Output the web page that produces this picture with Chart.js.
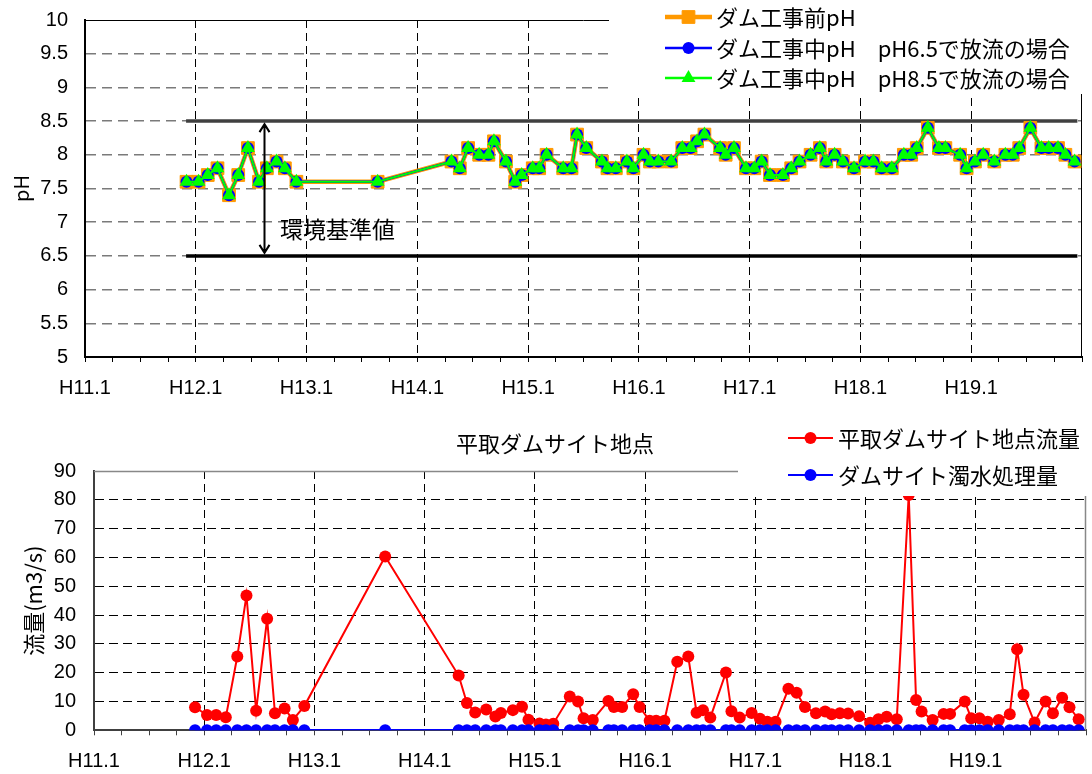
<!DOCTYPE html>
<html><head><meta charset="utf-8">
<script src="https://cdn.jsdelivr.net/npm/chart.js@4"></script>
<style>html,body{margin:0;padding:0;background:#fff;overflow:hidden}canvas{display:block}</style>
</head><body>
<canvas id="ph" width="1092" height="400"></canvas>
<canvas id="flow" width="1092" height="374"></canvas>
<script>
// ---- data (x = months since H11.1) ----
const months = [11.0, 12.3, 13.3, 14.35, 15.6, 16.6, 17.65, 18.85, 19.7, 20.75, 21.65, 22.9, 31.7,
  39.7, 40.6, 41.5, 42.7, 43.7, 44.3, 45.6, 46.6, 47.3, 48.5, 49.2, 50.0, 51.8, 52.7, 53.3, 54.3,
  56.0, 56.6, 57.5, 58.7, 59.4, 60.5, 61.2, 62.1, 63.5, 64.7, 65.6, 66.3, 67.1, 68.8, 69.4, 70.3,
  71.6, 72.5, 73.3, 74.2, 75.6, 76.5, 77.4, 78.6, 79.6, 80.3, 81.2, 82.1, 83.3, 84.5, 85.4, 86.3,
  87.4, 88.7, 89.5, 90.1, 91.3, 92.5, 93.2, 94.8, 95.5, 96.4, 97.3, 98.5, 99.7, 100.5, 101.2,
  102.4, 103.6, 104.4, 105.4, 106.2, 107.2];
const phBefore = [7.6,7.6,7.7,7.8,7.4,7.7,8.1,7.6,7.8,7.9,7.8,7.6,7.6,
  7.9,7.8,8.1,8.0,8.0,8.2,7.9,7.6,7.7,7.8, 7.8,8.0,7.8,7.8,8.3,8.1,7.9,7.8,7.8,7.9,
  7.8,8.0,7.9,7.9,7.9,8.1,8.1,8.2,8.3,8.1, 8.0,8.1,7.8,7.8,7.9,7.7,7.7,7.8,7.9,8.0,
  8.1,7.9,8.0,7.9,7.8,7.9,7.9,7.8,7.8,8.0, 8.0,8.1,8.4,8.1,8.1,8.0,7.8,7.9,8.0,7.9,
  8.0,8.0,8.1,8.4,8.1,8.1,8.1,8.0,7.9];
const phDuring65 = [7.6,7.6,7.7,7.8,7.4,7.7,8.1,7.6,7.8,7.9,7.8,7.6,7.6,
  7.9,7.8,8.1,8.0,8.0,8.2,7.9,7.6,7.7,7.8, 7.8,8.0,7.8,7.8,8.3,8.1,7.9,7.8,7.8,7.9,
  7.8,8.0,7.9,7.9,7.9,8.1,8.1,8.2,8.3,8.1, 8.0,8.1,7.8,7.8,7.9,7.7,7.7,7.8,7.9,8.0,
  8.1,7.9,8.0,7.9,7.8,7.9,7.9,7.8,7.8,8.0, 8.0,8.1,8.4,8.1,8.1,8.0,7.8,7.9,8.0,7.9,
  8.0,8.0,8.1,8.4,8.1,8.1,8.1,8.0,7.9];
const phDuring85 = [7.6,7.6,7.7,7.8,7.4,7.7,8.1,7.6,7.8,7.9,7.8,7.6,7.6,
  7.9,7.8,8.1,8.0,8.0,8.2,7.9,7.6,7.7,7.8, 7.8,8.0,7.8,7.8,8.3,8.1,7.9,7.8,7.8,7.9,
  7.8,8.0,7.9,7.9,7.9,8.1,8.1,8.2,8.3,8.1, 8.0,8.1,7.8,7.8,7.9,7.7,7.7,7.8,7.9,8.0,
  8.1,7.9,8.0,7.9,7.8,7.9,7.9,7.8,7.8,8.0, 8.0,8.1,8.4,8.1,8.1,8.0,7.8,7.9,8.0,7.9,
  8.0,8.0,8.1,8.4,8.1,8.1,8.1,8.0,7.9];
const flowSite = [8.0,5.3,5.3,4.5,25.6,46.8,6.8,38.7,5.9,7.6,3.6,8.4,60.3,
  19.0,9.5,6.2,7.2,4.8,6.0,7.0,8.2,3.7,2.4, 2.0,2.3,11.7,10.0,4.2,3.6,10.2,8.1,8.1,12.5,
  8.1,3.3,3.3,3.3,23.8,25.6,6.1,7.0,4.4,20.1, 6.6,4.4,6.0,4.0,3.0,3.0,14.4,13.0,8.1,5.9,
  6.5,5.6,5.9,5.8,4.9,2.6,3.8,4.7,3.8,81.7, 10.5,6.5,3.6,5.7,5.7,10.0,4.2,4.2,3.0,3.6,
  5.6,28.1,12.3,2.7,10.0,5.9,11.3,8.0,3.8];
const flowTreated = [0,0,0,0,0,0,0,0,0,0,0,0,0,
  0,0,0,0,0,0,0,0,0,0, 0,0,0,0,0,0,0,0,0,0, 0,0,0,0,0,0,0,0,0,0, 0,0,0,0,0,0,0,0,0,0,
  0,0,0,0,0,0,0,0,0,0, 0,0,0,0,0,0,0,0,0,0, 0,0,0,0,0,0,0,0,0];
const yearLabels = ['H11.1','H12.1','H13.1','H14.1','H15.1','H16.1','H17.1','H18.1','H19.1'];
const standardLevels = [8.5, 6.5];
const standardSpan = [10.95, 107.5];
const phLegend = ['ダム工事前pH', 'ダム工事中pH\u3000pH6.5で放流の場合', 'ダム工事中pH\u3000pH8.5で放流の場合'];
const flowLegend = ['平取ダムサイト地点流量', 'ダムサイト濁水処理量'];
const flowTitle = '平取ダムサイト地点';

// ---- helpers ----
const NUM_FONT = 'Liberation Sans, Arial, sans-serif';
const JP_FONT = '"Noto Sans CJK JP", sans-serif';
const pts = (vals) => vals.map((v, i) => ({x: months[i], y: v}));
const clear = 'rgba(0,0,0,0)';

function xAxis(h, axisColor) {
  return {
    type: 'linear', min: 0, max: 108,
    ticks: {stepSize: 3, autoSkip: false, maxRotation: 0, minRotation: 0, padding: 14, color: '#000',
      font: {family: NUM_FONT, size: 20},
      callback: (v) => (v % 12 === 0 && v / 12 < yearLabels.length) ? yearLabels[v / 12] : ''},
    grid: {color: (c) => { const v = c.tick ? c.tick.value : -1; return (v % 12 === 0 && v > 0 && v < 108) ? '#000' : clear; },
      lineWidth: 1, tickColor: axisColor, tickLength: 5, tickWidth: 1},
    border: {display: true, color: axisColor, width: 2, dash: [8, 5]},
    afterFit: (s) => { s.height = h; s.paddingLeft = 0; s.paddingRight = 0; }
  };
}
const yFmt = (v) => String(Number(Number(v).toFixed(1)));

function drawLegend(ctx, items, x0, x1, tx, ys, font) {
  items.forEach((it, i) => {
    const y = ys[i];
    ctx.save();
    ctx.strokeStyle = it.color; ctx.lineWidth = it.lw;
    ctx.beginPath(); ctx.moveTo(x0, y); ctx.lineTo(x1, y); ctx.stroke();
    ctx.fillStyle = it.fill; ctx.strokeStyle = it.stroke; ctx.lineWidth = it.bw;
    Chart.helpers.drawPoint(ctx, {pointStyle: it.style, radius: it.r, borderWidth: it.bw, rotation: 0}, (x0 + x1) / 2, y);
    ctx.fillStyle = '#000'; ctx.font = font; ctx.textBaseline = 'middle'; ctx.textAlign = 'left';
    ctx.fillText(it.text, tx, y + 1);
    ctx.restore();
  });
}

// ---- pH chart ----
const arrowMonth = 19.4;
const phDecor = {
  id: 'phDecor',
  beforeDatasetsDraw(chart) {
    const {ctx, chartArea: a} = chart;
    ctx.save(); ctx.strokeStyle = '#000'; ctx.lineWidth = 1;
    ctx.beginPath(); ctx.moveTo(a.left, a.top + 0.5); ctx.lineTo(a.right, a.top + 0.5);
    ctx.moveTo(a.right - 0.5, a.top); ctx.lineTo(a.right - 0.5, a.bottom); ctx.stroke(); ctx.restore();
  },
  afterDraw(chart) {
    const {ctx, scales: {x, y}} = chart;
    const ax = Math.round(x.getPixelForValue(arrowMonth)) + 0.5;
    const y1 = y.getPixelForValue(standardLevels[0]) + 3, y2 = y.getPixelForValue(standardLevels[1]) - 3;
    ctx.save(); ctx.strokeStyle = '#000'; ctx.lineWidth = 2;
    ctx.beginPath(); ctx.moveTo(ax, y1); ctx.lineTo(ax, y2);
    ctx.moveTo(ax - 5, y1 + 8); ctx.lineTo(ax, y1); ctx.lineTo(ax + 5, y1 + 8);
    ctx.moveTo(ax - 5, y2 - 8); ctx.lineTo(ax, y2); ctx.lineTo(ax + 5, y2 - 8);
    ctx.stroke();
    ctx.fillStyle = '#000'; ctx.font = '23px ' + JP_FONT; ctx.textBaseline = 'middle';
    ctx.fillText('環境基準値', 280, 229);
    ctx.fillStyle = '#fff'; ctx.fillRect(609, 0, 483, 94);
    ctx.restore();
    drawLegend(ctx, [
      {text: phLegend[0], color: '#ff9900', lw: 4.5, fill: '#ff9900', stroke: '#ff9900', bw: 1, style: 'rect', r: 9},
      {text: phLegend[1], color: '#0000ff', lw: 2.5, fill: '#0000ff', stroke: '#0000ff', bw: 0, style: 'circle', r: 6},
      {text: phLegend[2], color: '#00ff00', lw: 2.5, fill: '#00ff00', stroke: '#00ff00', bw: 0, style: 'triangle', r: 8}
    ], 665, 712, 716, [17, 48, 78], '22px ' + JP_FONT);
  }
};

new Chart(document.getElementById('ph'), {
  type: 'line',
  data: {datasets: [
    {data: [{x: standardSpan[0], y: standardLevels[0]}, {x: standardSpan[1], y: standardLevels[0]}], borderColor: '#404040', borderWidth: 3.5, pointRadius: 0, order: 10},
    {data: [{x: standardSpan[0], y: standardLevels[1]}, {x: standardSpan[1], y: standardLevels[1]}], borderColor: '#000000', borderWidth: 3.5, pointRadius: 0, order: 10},
    {data: pts(phBefore), borderColor: '#ff9900', borderWidth: 4.5, pointStyle: 'rect', pointRadius: 9,
      pointBackgroundColor: '#ff9900', pointBorderColor: '#ff9900', pointBorderWidth: 1, order: 3},
    {data: pts(phDuring65), borderColor: '#0000ff', borderWidth: 2.5, pointStyle: 'circle', pointRadius: 6,
      pointBackgroundColor: '#0000ff', pointBorderWidth: 0, order: 2},
    {data: pts(phDuring85), borderColor: '#00ff00', borderWidth: 2, pointStyle: 'triangle', pointRadius: 8,
      pointBackgroundColor: '#00ff00', pointBorderWidth: 0, order: 1}
  ]},
  options: {
    responsive: false, animation: false, events: [],
    layout: {padding: {top: 20, right: 1, bottom: 0, left: 0}},
    plugins: {legend: {display: false}, tooltip: {enabled: false}, title: {display: false}},
    elements: {line: {tension: 0}},
    scales: {
      x: xAxis(43, '#000'),
      y: {min: 5, max: 10,
        ticks: {stepSize: 0.5, padding: 17, color: '#000', font: {family: NUM_FONT, size: 20}, callback: yFmt},
        grid: {drawTicks: false, lineWidth: 1.5, color: (c) => { const v = c.tick ? c.tick.value : 0; return (v === 10 || v === 5) ? clear : '#7a7a7a'; }},
        border: {color: '#000', width: 2, dash: [10, 6]},
        title: {display: true, text: 'pH', color: '#000', font: {family: JP_FONT, size: 20}, padding: {top: 9, bottom: 0}},
        afterFit: (s) => { s.width = 85; s.paddingTop = 0; s.paddingBottom = 0; }}
    }
  },
  plugins: [phDecor]
});

// ---- flow chart ----
const flowDecor = {
  id: 'flowDecor',
  beforeDatasetsDraw(chart) {
    const {ctx, chartArea: a} = chart;
    ctx.save(); ctx.strokeStyle = '#888'; ctx.lineWidth = 1.5;
    ctx.beginPath(); ctx.moveTo(a.left, a.top + 0.5); ctx.lineTo(a.right, a.top + 0.5);
    ctx.moveTo(a.right - 0.5, a.top); ctx.lineTo(a.right - 0.5, a.bottom); ctx.stroke(); ctx.restore();
  },
  afterDraw(chart) {
    const {ctx} = chart;
    ctx.save();
    ctx.fillStyle = '#fff'; ctx.fillRect(738, 0, 354, 96);
    ctx.fillStyle = '#000'; ctx.font = '22px ' + JP_FONT; ctx.textAlign = 'center'; ctx.textBaseline = 'middle';
    ctx.fillText(flowTitle, 555, 44);
    ctx.restore();
    drawLegend(ctx, [
      {text: flowLegend[0], color: '#ff0000', lw: 2, fill: '#ff0000', stroke: '#ff0000', bw: 0, style: 'circle', r: 6},
      {text: flowLegend[1], color: '#0000ff', lw: 2, fill: '#0000ff', stroke: '#0000ff', bw: 0, style: 'circle', r: 6}
    ], 788, 833, 838, [38, 75], '22px ' + JP_FONT);
  }
};

new Chart(document.getElementById('flow'), {
  type: 'line',
  data: {datasets: [
    {data: pts(flowSite), borderColor: '#ff0000', borderWidth: 2, pointStyle: 'circle', pointRadius: 6,
      pointBackgroundColor: '#ff0000', pointBorderWidth: 0, order: 2},
    {data: pts(flowTreated), borderColor: '#0000ff', borderWidth: 2.5, pointStyle: 'circle', pointRadius: 6,
      pointBackgroundColor: '#0000ff', pointBorderWidth: 0, order: 1}
  ]},
  options: {
    responsive: false, animation: false, events: [],
    layout: {padding: {top: 71, right: 1, bottom: 0, left: 0}},
    plugins: {legend: {display: false}, tooltip: {enabled: false}, title: {display: false}},
    elements: {line: {tension: 0}},
    scales: {
      x: xAxis(43.7, '#404040'),
      y: {min: 0, max: 90,
        ticks: {stepSize: 10, padding: 18, color: '#000', font: {family: NUM_FONT, size: 20}, callback: yFmt},
        grid: {drawTicks: false, lineWidth: 1, color: (c) => { const v = c.tick ? c.tick.value : 0; return (v === 90 || v === 0) ? clear : '#000'; }},
        border: {color: '#404040', width: 2, dash: [9, 5]},
        title: {display: true, text: '流量(m3/s)', color: '#000', font: {family: JP_FONT, size: 22}, padding: {top: 20, bottom: 0}},
        afterFit: (s) => { s.width = 94; s.paddingTop = 0; s.paddingBottom = 0; }}
    }
  },
  plugins: [flowDecor]
});
</script>
</body></html>
